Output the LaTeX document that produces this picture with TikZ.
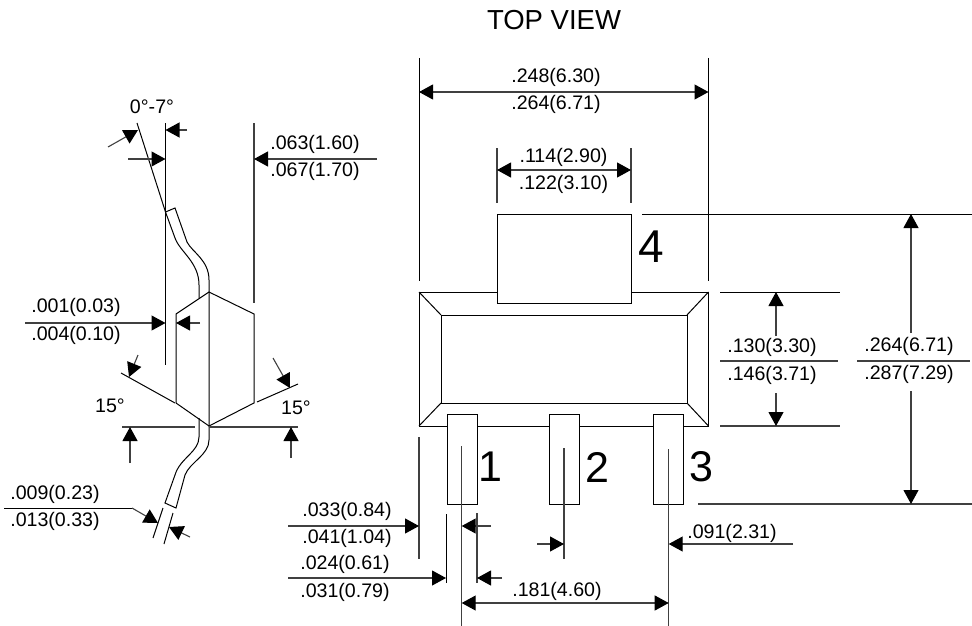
\documentclass[tikz,border=0pt]{standalone}
\usepackage{fontspec}
\setmainfont{Liberation Sans}
\usetikzlibrary{arrows.meta}
\tikzset{
	outline/.style={draw=black,line width=1pt},
	dimline/.style={draw=black!75,line width=1.1pt},
	dimarrow/.style={dimline,-{Triangle[length=14pt,width=15pt,black]}},
	dimboth/.style={dimline,{Triangle[length=14pt,width=15pt,black]}-{Triangle[length=14pt,width=15pt,black]}},
	dimtext/.style={inner sep=0pt,yshift=-1.5pt,font=\fontsize{19.6}{23}\selectfont},
	pinnum/.style={inner sep=0pt,font=\fontsize{43}{46}\selectfont},
}
\begin{document}
\begin{tikzpicture}[x=1pt,y=-1pt]
	\useasboundingbox (0,0) rectangle (972,626);
	\node[inner sep=0pt,font=\fontsize{27.5}{30}\selectfont] (title) at (554,20) {TOP VIEW};

	% side view
	\draw[outline] (165.5,123) -- (165.5,365);
	\draw[outline] (137,123) -- (165.5,212);
	\draw[outline] (165.5,212) -- (175,208) -- (187,242) .. controls (192,252) and (209,260) .. (209,280) -- (209,426);
	\draw[outline] (165.5,212) -- (175,238) .. controls (180,252) and (199,262) .. (199,285) -- (199,298);
	\draw[outline] (176,403) -- (176,314) -- (209,292) -- (254,314) -- (254,403) -- (209,426) -- cycle;
	\draw[outline] (199,418) -- (199,437) .. controls (199,452) and (180,458) .. (175,475) -- (165,503) -- (176,508) -- (185,475) .. controls (190,462) and (209,455) .. (209,440) -- (209,426);
	\draw[outline] (163,508) -- (153,538);
	\draw[outline] (173,513) -- (164,544);
	\draw[dimline] (254,123) -- (254,303);
	\draw[outline] (121,373) -- (175,403);
	\draw[outline] (298,384) -- (257,402);
	\draw[dimline] (122,427) -- (195,427);
	\draw[dimline] (209,427) -- (298,427);

	\draw[dimarrow] (108,147) -- (138,130);
	\draw[dimarrow] (187,130) -- (165.5,130);
	\draw[dimarrow] (128,159) -- (165.5,159);
	\draw[dimarrow] (377,159) -- (254,159);
	\draw[dimarrow] (25,323) -- (165.5,323);
	\draw[dimarrow] (200,323) -- (176,323);
	\draw[dimarrow] (138,355) -- (129,377);
	\draw[dimarrow] (273,358) -- (290,388);
	\draw[dimarrow] (130,463) -- (130,427);
	\draw[dimarrow] (291,458) -- (291,427);
	\draw[outline] (4,508) -- (132,508);
	\draw[dimarrow] (132,508) -- (158,523);
	\draw[dimarrow] (190,537) -- (169,527);

	\node[dimtext] (angle) at (152,105) {0°-7°};
	\node[dimtext] (leadtop) at (315,143) {.063(1.60)};
	\node[dimtext] (leadbot) at (315,170) {.067(1.70)};
	\node[dimtext] (gaptop) at (76,306) {.001(0.03)};
	\node[dimtext] (gapbot) at (76,334) {.004(0.10)};
	\node[dimtext] (angleleft) at (110,404) {15°};
	\node[dimtext] (angleright) at (296,406) {15°};
	\node[dimtext] (thicktop) at (55,493) {.009(0.23)};
	\node[dimtext] (thickbot) at (55,520) {.013(0.33)};

	% top view
	\draw[outline] (419,292) rectangle (708.5,426);
	\draw[outline] (441,315) rectangle (687,403);
	\draw[outline] (419,292) -- (441,315);
	\draw[outline] (708.5,292) -- (687,315);
	\draw[outline] (419,426) -- (441,403);
	\draw[outline] (708.5,426) -- (687,403);
	\draw[outline,fill=white] (497,214) rectangle (631,303);
	\draw[outline,fill=white] (447,414) rectangle (477,504);
	\draw[outline,fill=white] (549,414) rectangle (579,504);
	\draw[outline,fill=white] (653,414) rectangle (683,504);
	\node[pinnum] (pinone) at (490,467) {1};
	\node[pinnum] (pintwo) at (597,467) {2};
	\node[pinnum] (pinthree) at (701,467) {3};
	\node[pinnum,font=\fontsize{46}{48}\selectfont] (pinfour) at (651,247) {4};

	\draw[outline] (419,58) -- (419,281);
	\draw[outline] (708.5,58) -- (708.5,281);
	\draw[dimboth] (419,92) -- (708.5,92);
	\node[dimtext] (widthtop) at (556,76) {.248(6.30)};
	\node[dimtext] (widthbot) at (556,103) {.264(6.71)};

	\draw[dimline] (497,148) -- (497,203);
	\draw[dimline] (631,148) -- (631,203);
	\draw[dimboth] (497,170) -- (631,170);
	\node[dimtext] (tabtop) at (563.5,156) {.114(2.90)};
	\node[dimtext] (tabbot) at (563.5,183) {.122(3.10)};

	% right side
	\draw[outline] (642,214) -- (972,214);
	\draw[outline] (720,292) -- (840,292);
	\draw[dimline] (720,426) -- (840,426);
	\draw[dimline] (698,504) -- (972,504);
	\draw[dimline] (720,361) -- (838,361);
	\draw[dimline] (857,361) -- (970,361);
	\draw[dimarrow] (776,336) -- (776,292);
	\draw[dimarrow] (776,393) -- (776,426);
	\draw[dimarrow] (911,333) -- (911,214);
	\draw[dimarrow] (911,391) -- (911,504);
	\node[dimtext] (bodytop) at (772,346) {.130(3.30)};
	\node[dimtext] (bodybot) at (772,374) {.146(3.71)};
	\node[dimtext] (totaltop) at (909,345) {.264(6.71)};
	\node[dimtext] (totalbot) at (909,373) {.287(7.29)};

	% under the pins
	\draw[dimline] (461.7,446) -- (461.7,626);
	\draw[dimline] (564,448) -- (564,559);
	\draw[dimline] (668.7,449) -- (668.7,626);
	\draw[dimline] (419,437) -- (419,559);
	\draw[outline] (446,514) -- (446,583);
	\draw[dimline] (477,513) -- (477,583);
	\draw[dimarrow] (288,526) -- (419,526);
	\draw[dimarrow] (288,578) -- (446,578);
	\draw[dimarrow] (491,526) -- (461.7,526);
	\draw[dimarrow] (502,578) -- (477,578);
	\draw[dimarrow] (537,544) -- (564,544);
	\draw[dimarrow] (793,544) -- (668.7,544);
	\draw[dimboth] (461.7,603) -- (668.7,603);
	\node[dimtext] (legtop) at (347,510) {.033(0.84)};
	\node[dimtext] (legbot) at (347,537) {.041(1.04)};
	\node[dimtext] (pintop) at (345,563) {.024(0.61)};
	\node[dimtext] (pinbot) at (345,591) {.031(0.79)};
	\node[dimtext] (offset) at (732,532) {.091(2.31)};
	\node[dimtext] (pitch) at (557,590) {.181(4.60)};
\end{tikzpicture}
\end{document}
